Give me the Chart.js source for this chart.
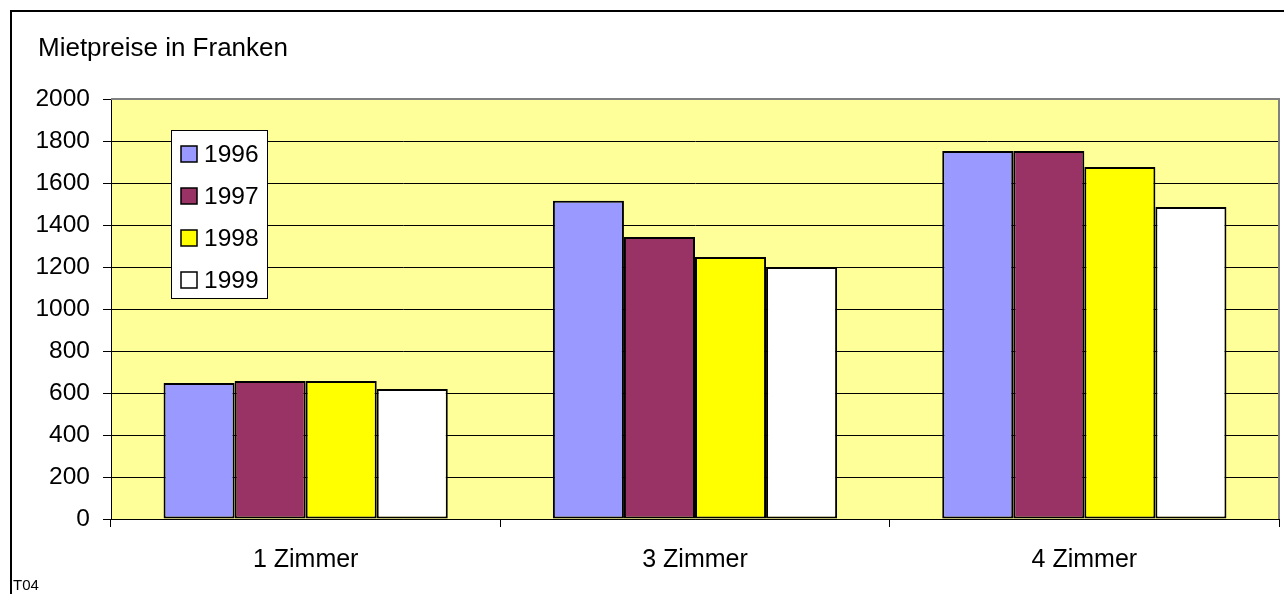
<!DOCTYPE html>
<html>
<head>
<meta charset="utf-8">
<script src="https://cdn.jsdelivr.net/npm/chart.js@4"></script>
<style>
  html, body { margin: 0; padding: 0; background: #ffffff; overflow: hidden; }
  canvas { display: block; }
</style>
</head>
<body>
<canvas id="rentChart" width="1284" height="594"></canvas>
<script>
// Monthly rents (CHF) by flat size and year
const categories = ['1 Zimmer', '3 Zimmer', '4 Zimmer'];
const years = ['1996', '1997', '1998', '1999'];
const rent1996 = [648, 1515, 1752];
const rent1997 = [657, 1343, 1752];
const rent1998 = [657, 1248, 1676];
const rent1999 = [619, 1200, 1486];
const yTickValues = [0, 200, 400, 600, 800, 1000, 1200, 1400, 1600, 1800, 2000];
const titleText = 'Mietpreise in Franken';
const footnoteText = 'T04';

const seriesColors = ['#9999FF', '#993366', '#FFFF00', '#FFFFFF'];
const FONT = '"Liberation Sans", Arial, sans-serif';

const seriesValues = [rent1996, rent1997, rent1998, rent1999];

// Plot background, frame, legend box and captions
const decorations = {
  id: 'decorations',
  beforeDraw(chart) {
    const { ctx, chartArea: a } = chart;
    ctx.save();
    ctx.fillStyle = '#FFFF99';
    ctx.fillRect(a.left, a.top, a.right - a.left, a.bottom - a.top);
    ctx.restore();
  },
  afterDraw(chart) {
    const { ctx, chartArea: a } = chart;
    ctx.save();

    // grey plot border on top and right
    ctx.strokeStyle = '#808080';
    ctx.lineWidth = 2;
    ctx.beginPath();
    ctx.moveTo(a.left, a.top);
    ctx.lineTo(a.right, a.top);
    ctx.lineTo(a.right, a.bottom);
    ctx.stroke();

    // outer frame
    ctx.strokeStyle = '#000000';
    ctx.lineWidth = 2;
    ctx.strokeRect(11, 11, 1400, 800);

    // title
    ctx.fillStyle = '#000000';
    ctx.font = '26px ' + FONT;
    ctx.textAlign = 'left';
    ctx.textBaseline = 'alphabetic';
    ctx.fillText(titleText, 38, 56);

    // footnote
    ctx.font = '15px ' + FONT;
    ctx.fillText(footnoteText, 13, 590);

    // legend
    const lx = 171, ly = 130, lw = 96, lh = 168;
    ctx.fillStyle = '#FFFFFF';
    ctx.fillRect(lx, ly, lw, lh);
    ctx.strokeStyle = '#000000';
    ctx.lineWidth = 1;
    ctx.strokeRect(lx + 0.5, ly + 0.5, lw, lh);
    ctx.font = '24.5px ' + FONT;
    ctx.textBaseline = 'middle';
    chart.data.datasets.forEach((ds, i) => {
      const cy = 154 + i * 42;
      ctx.fillStyle = ds.backgroundColor;
      ctx.fillRect(181, cy - 8, 16, 16);
      ctx.strokeStyle = '#000000';
      ctx.lineWidth = 1.5;
      ctx.strokeRect(181, cy - 8, 16, 16);
      ctx.fillStyle = '#000000';
      ctx.fillText(ds.label, 204, cy + 1);
    });

    ctx.restore();
  }
};

new Chart(document.getElementById('rentChart'), {
  type: 'bar',
  data: {
    labels: categories,
    datasets: years.map((y, i) => ({
      label: y,
      data: seriesValues[i],
      backgroundColor: seriesColors[i],
      borderColor: '#000000',
      borderWidth: 2,
      borderSkipped: false,
      categoryPercentage: 0.73,
      barPercentage: 1.0
    }))
  },
  options: {
    responsive: false,
    animation: false,
    devicePixelRatio: 1,
    layout: { padding: { top: 99, right: 5, left: 0, bottom: 0 } },
    plugins: {
      legend: { display: false },
      title: { display: false },
      tooltip: { enabled: false }
    },
    scales: {
      x: {
        afterFit(scale) { scale.height = 75; },
        grid: {
          offset: true,
          drawOnChartArea: false,
          drawTicks: true,
          tickLength: 8,
          color: '#000000',
          lineWidth: 1
        },
        border: { display: true, color: '#000000', width: 1 },
        ticks: {
          color: '#000000',
          font: { family: FONT, size: 25 },
          padding: 18,
          maxRotation: 0
        }
      },
      y: {
        min: 0,
        max: 2000,
        afterFit(scale) { scale.width = 111; },
        afterBuildTicks(scale) { scale.ticks = yTickValues.map(v => ({ value: v })); },
        grid: {
          color: '#000000',
          lineWidth: 1,
          drawTicks: true,
          tickLength: 8
        },
        border: { display: true, color: '#000000', width: 1 },
        ticks: {
          color: '#000000',
          font: { family: FONT, size: 24.5 },
          padding: 13,
          callback: (v) => String(v)
        }
      }
    }
  },
  plugins: [decorations]
});
</script>
</body>
</html>
